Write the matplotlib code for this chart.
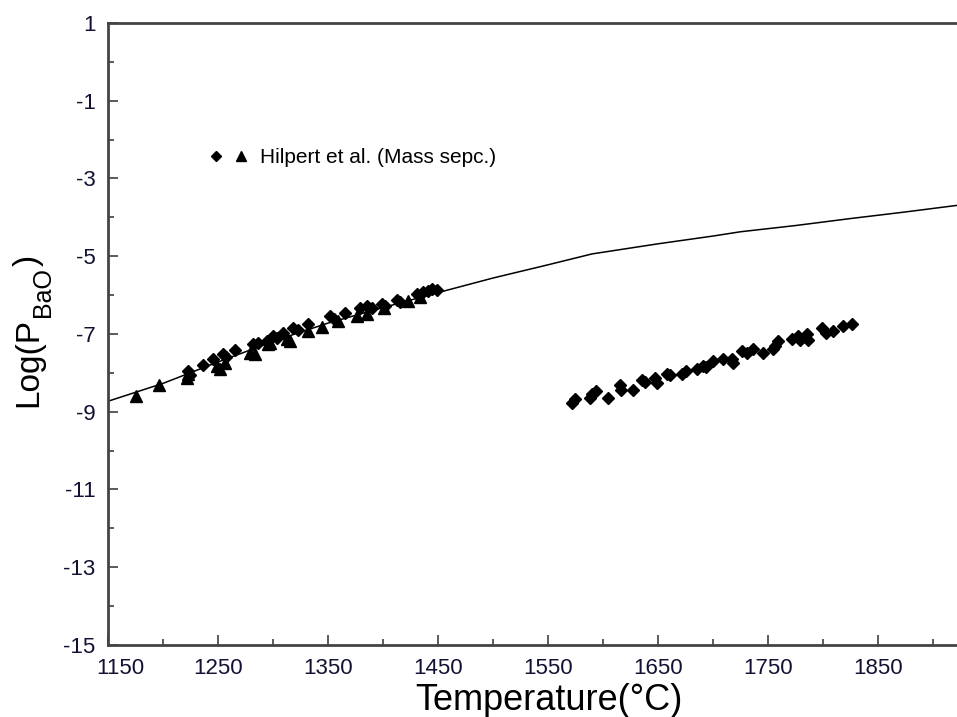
import matplotlib
matplotlib.use("Agg")
import matplotlib.pyplot as plt
import matplotlib.transforms as mtransforms
from matplotlib.ticker import MultipleLocator
from matplotlib.legend_handler import HandlerTuple
from matplotlib.lines import Line2D

plt.rcParams['font.family'] = ['Liberation Sans', 'DejaVu Sans']
plt.rcParams['axes.unicode_minus'] = False

# Calculated vapour pressure curve
curve_T = [1150, 1200, 1250, 1306, 1350, 1400, 1452, 1500, 1550, 1590,
           1650, 1700, 1725, 1775, 1825, 1875, 1925]
curve_logP = [-8.73, -8.27, -7.72, -7.13, -6.72, -6.32, -5.92, -5.56, -5.22, -4.94,
              -4.68, -4.48, -4.37, -4.21, -4.03, -3.86, -3.68]

# Hilpert et al., mass spectrometry (diamonds)
dia_T = [1223, 1224.5, 1236.6, 1245.7, 1254.8, 1257.3, 1265.5, 1282, 1286.4, 1294.3,
         1300.3, 1303.6, 1309.4, 1318.5, 1322.7, 1332.1, 1351.8, 1355.5, 1365.5, 1379,
         1385.2, 1390, 1398.8, 1401.8, 1412.4, 1415.5, 1430.6, 1436.6, 1441, 1444.3,
         1448.8,
         1571.5, 1574.5, 1588, 1589.7, 1594, 1604.8, 1615.5, 1616.5, 1627.5, 1635,
         1638, 1647, 1648.8, 1658, 1661, 1671.5, 1675, 1685, 1691, 1694,
         1700, 1709, 1717, 1718, 1726, 1730.5, 1736, 1745, 1754.5, 1759,
         1756, 1771.5, 1777, 1779, 1785, 1786, 1799, 1803, 1809, 1818, 1826]
dia_logP = [-7.95, -8.06, -7.80, -7.65, -7.52, -7.59, -7.40, -7.27, -7.23, -7.18,
            -7.05, -7.10, -6.97, -6.85, -6.90, -6.73, -6.54, -6.61, -6.45, -6.32,
            -6.28, -6.33, -6.23, -6.28, -6.13, -6.17, -5.98, -5.93, -5.90, -5.85,
            -5.86,
            -8.77, -8.67, -8.64, -8.55, -8.47, -8.64, -8.31, -8.43, -8.43, -8.19,
            -8.24, -8.13, -8.26, -8.02, -8.06, -8.02, -7.95, -7.91, -7.83, -7.86,
            -7.70, -7.65, -7.65, -7.74, -7.44, -7.48, -7.39, -7.48, -7.39, -7.18,
            -7.30, -7.14, -7.05, -7.15, -7.00, -7.15, -6.84, -6.97, -6.93, -6.79, -6.75]

# Hilpert et al., mass spectrometry (triangles)
tri_T = [1175.5, 1196.6, 1221.5, 1222.7, 1248.8, 1251.8, 1256.4, 1279, 1283.6, 1297.3,
         1295.7, 1312.5, 1315.5, 1332, 1344.3, 1359.4, 1376, 1385, 1401, 1422.7, 1433.6]
tri_logP = [-8.60, -8.30, -8.13, -8.03, -7.83, -7.90, -7.74, -7.48, -7.52, -7.22,
            -7.27, -7.14, -7.18, -6.92, -6.83, -6.66, -6.54, -6.49, -6.33, -6.16, -6.06]

x_ticks = [1150, 1250, 1350, 1450, 1550, 1650, 1750, 1850]
y_ticks = [1, -1, -3, -5, -7, -9, -11, -13, -15]

W, H, DPI = 957, 717, 100
fig = plt.figure(figsize=(W / DPI, H / DPI), dpi=DPI)
ax = fig.add_axes([108 / W, 72 / H, 852 / W, 622 / H])

ax.plot(curve_T, curve_logP, color='black', lw=1.1, zorder=2)
ax.plot(dia_T, dia_logP, 'D', color='black', markersize=6.3, ls='none', zorder=3)
ax.plot(tri_T, tri_logP, '^', color='black', markersize=8, ls='none', zorder=3)

ax.set_xlim(1150, 1924.5)
ax.set_ylim(-15, 1)
ax.set_xticks(x_ticks)
ax.set_yticks(y_ticks)
ax.xaxis.set_minor_locator(MultipleLocator(50))
ax.yaxis.set_minor_locator(MultipleLocator(1))
ax.tick_params(which='both', direction='in', colors='#404040', labelcolor='#111133',
               labelsize=16, width=1.2)
ax.tick_params(which='major', length=7, pad=9)
ax.tick_params(which='minor', length=4)
for side in ['left', 'bottom', 'top', 'right']:
    ax.spines[side].set_color('#444444')
    ax.spines[side].set_linewidth(2)

# nudge the first x tick label clear of the y axis
fig.canvas.draw()
first = ax.get_xticklabels()[0]
first.set_transform(first.get_transform()
                    + mtransforms.ScaledTranslation(12 / DPI, 0, fig.dpi_scale_trans))

ax.set_xlabel('Temperature(°C)', fontsize=26, va='baseline')
ax.xaxis.set_label_coords(0.518, -0.104)

# y-axis title built from pieces so the subscript can be set large and low
renderer = fig.canvas.get_renderer()
rot = dict(rotation=90, rotation_mode='anchor', ha='left', va='baseline')
t_main = fig.text(37 / W, (H - 407) / H, 'Log(P', fontsize=24, **rot)
top_main = t_main.get_window_extent(renderer).y1
t_sub = fig.text(50 / W, (top_main + 1) / H, 'BaO', fontsize=18, **rot)
top_sub = t_sub.get_window_extent(renderer).y1
fig.text(37 / W, (top_sub + 1) / H, ')', fontsize=24, **rot)

dl = Line2D([], [], marker='D', color='black', ls='none', markersize=5)
tl = Line2D([], [], marker='^', color='black', ls='none', markersize=6.5)
ax.legend([(dl, tl)], ['Hilpert et al. (Mass sepc.)'],
          handler_map={tuple: HandlerTuple(ndivide=None, pad=0.6)},
          loc='center left', bbox_to_anchor=(0.107, 0.783), frameon=False,
          fontsize=15, handlelength=1.8, handletextpad=0.6, borderpad=0)

fig.savefig('out.png', dpi=DPI)
